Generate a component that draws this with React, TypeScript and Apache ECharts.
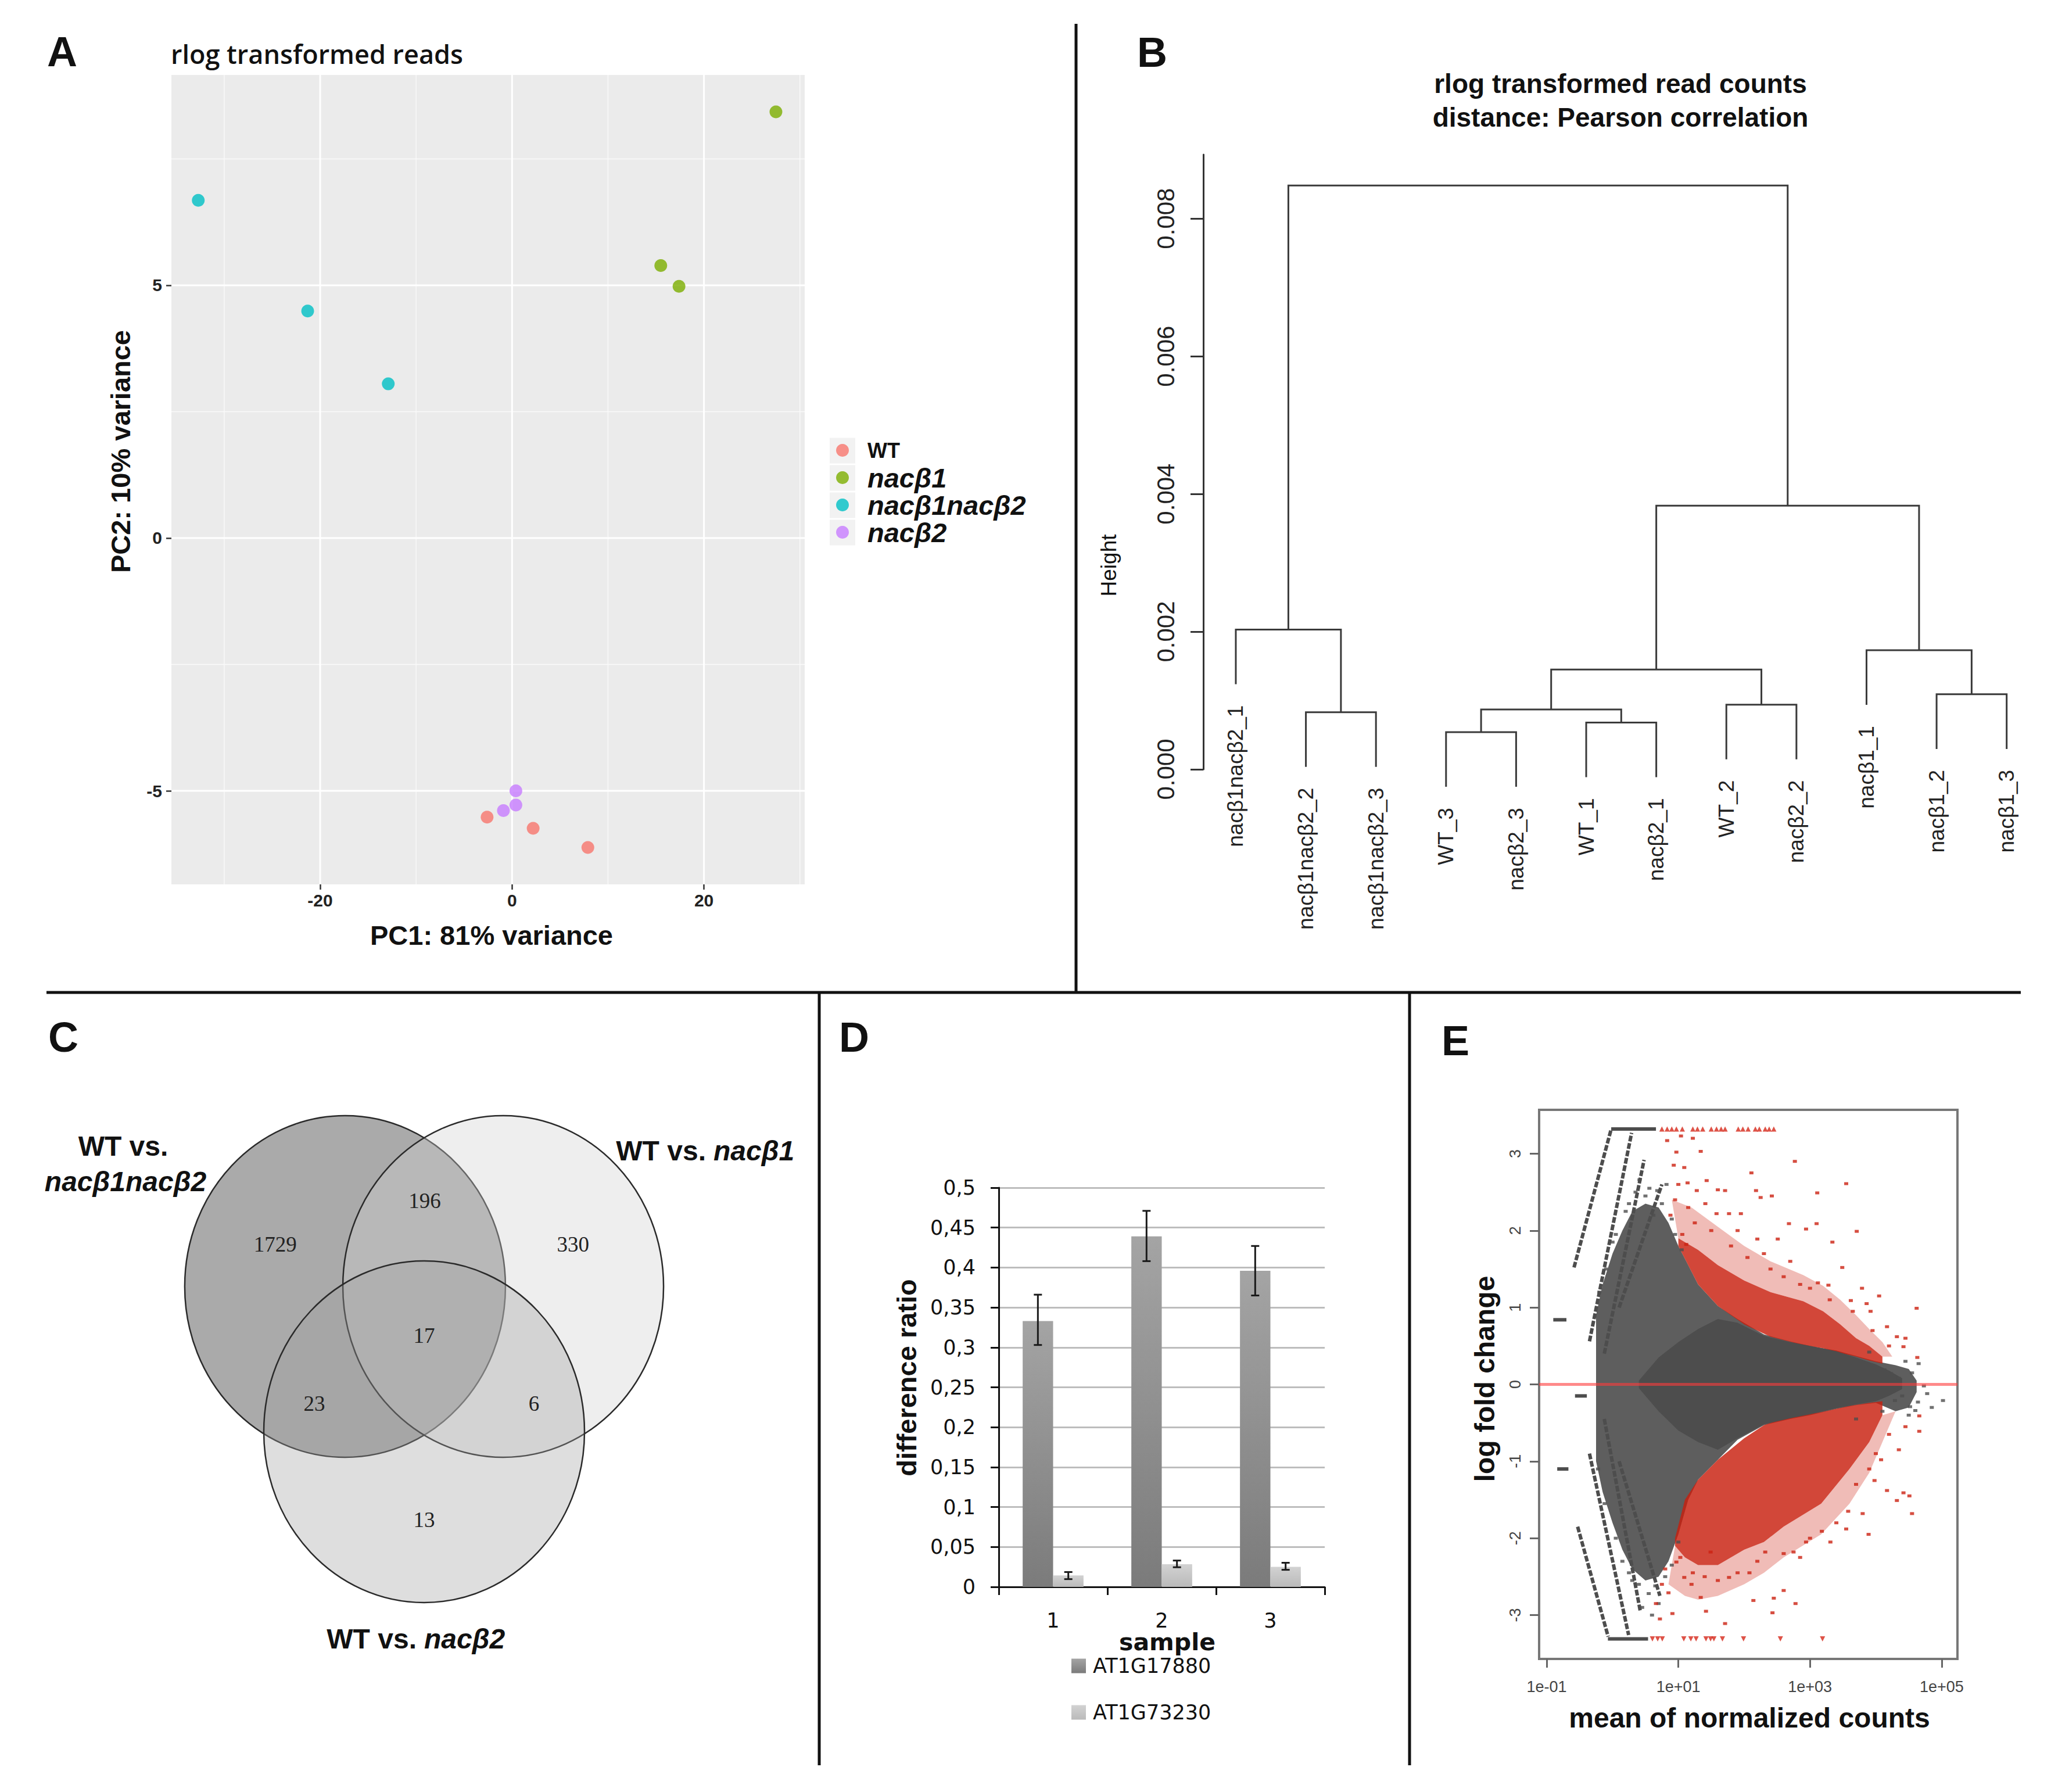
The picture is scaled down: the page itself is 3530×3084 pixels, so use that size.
import React, { useEffect, useRef } from 'react';
import * as echarts from 'echarts';

const W = 3530;
const H = 3084;
const LS = 'Liberation Sans';

// ---------------- Panel A : PCA ----------------
const pcaGroups = ['WT', 'nacβ1', 'nacβ1nacβ2', 'nacβ2'];
const pcaWT = [[-2.6, -5.52], [2.2, -5.74], [7.9, -6.12]];
const pcaNacB1 = [[27.5, 8.43], [15.5, 5.39], [17.4, 4.98]];
const pcaDouble = [[-32.7, 6.68], [-21.3, 4.49], [-12.9, 3.05]];
const pcaNacB2 = [[0.4, -5.0], [0.4, -5.28], [-0.9, -5.39]];
const pcaPoints = [pcaWT, pcaNacB1, pcaDouble, pcaNacB2];
const pcaXTicks = [-20, 0, 20];
const pcaYTicks = [-5, 0, 5];
const pcaXMinor = [-30, -10, 10, 30];
const pcaYMinor = [-2.5, 2.5, 7.5];

// ---------------- Panel B : dendrogram ----------------
const leafLabels = ['nacβ1nacβ2_1', 'nacβ1nacβ2_2', 'nacβ1nacβ2_3', 'WT_3', 'nacβ2_3', 'WT_1', 'nacβ2_1', 'WT_2', 'nacβ2_2', 'nacβ1_1', 'nacβ1_2', 'nacβ1_3'];
// R-style merge matrix: negative = leaf (1-based, plot order), positive = earlier merge (1-based)
const mergeLeft = [-2, -4, -6, 2, -8, -11, 4, -10, -1, 7, 9];
const mergeRight = [-3, -5, -7, 3, -9, -12, 5, 6, 1, 8, 10];
const mergeHeight = [0.00083, 0.00054, 0.00068, 0.00087, 0.00094, 0.00109, 0.00145, 0.00173, 0.00203, 0.00383, 0.00848];
const dendroTicks = [0, 0.002, 0.004, 0.006, 0.008];

// ---------------- Panel C : Venn ----------------
const vennCircles = [[-0.493, 0, 1], [0.493, 0, 1], [0, -0.85, 1]];
const vennCounts = [1729, 196, 330, 17, 23, 6, 13];
const vennCountPos = [[-0.928, 0.248], [0.004, 0.503], [0.928, 0.248], [0, -0.286], [-0.685, -0.684], [0.685, -0.684], [0, -1.364]];

// ---------------- Panel D : bars ----------------
const samples = ['1', '2', '3'];
const geneNames = ['AT1G17880', 'AT1G73230'];
const gene1Ratio = [0.333, 0.439, 0.396];
const gene1Err = [[0.303, 0.366], [0.408, 0.471], [0.365, 0.427]];
const gene2Ratio = [0.0144, 0.0283, 0.0251];
const gene2Err = [[0.0097, 0.0186], [0.0246, 0.033], [0.0214, 0.0302]];

// ---------------- Panel E : MA plot (x = log10 mean count, y = log fold change) ----------------
const maTickExp = [-1, 1, 3, 5];
const maTickLabels = ['1e-01', '1e+01', '1e+03', '1e+05'];
const maYTicks = [-3, -2, -1, 0, 1, 2, 3];
const greyCloudTop = [[-0.25, 0.9], [-0.15, 1.3], [0.0, 1.7], [0.15, 2.0], [0.3, 2.25], [0.5, 2.35], [0.7, 2.3], [0.85, 2.1], [1.0, 1.8], [1.15, 1.55], [1.3, 1.3], [1.6, 1.02], [1.9, 0.85], [2.3, 0.65], [2.7, 0.56], [3.0, 0.5], [3.4, 0.44], [3.7, 0.37], [4.0, 0.3], [4.3, 0.25], [4.5, 0.2], [4.62, 0.05]];
const greyCloudBottom = [[-0.25, -1.0], [-0.15, -1.4], [0.0, -1.8], [0.15, -2.15], [0.3, -2.4], [0.5, -2.55], [0.7, -2.5], [0.85, -2.3], [1.0, -1.95], [1.15, -1.5], [1.3, -1.24], [1.6, -0.98], [1.9, -0.72], [2.3, -0.53], [2.7, -0.45], [3.0, -0.4], [3.4, -0.32], [3.7, -0.27], [4.0, -0.24], [4.3, -0.35], [4.5, -0.3], [4.62, -0.1]];
const greyCoreTop = [[0.4, 0.05], [0.7, 0.35], [1.0, 0.55], [1.3, 0.72], [1.6, 0.85], [1.9, 0.8], [2.3, 0.63], [2.7, 0.55], [3.0, 0.5], [3.4, 0.43], [3.7, 0.35], [4.0, 0.26], [4.2, 0.18], [4.4, 0.08]];
const greyCoreBottom = [[0.4, -0.05], [0.7, -0.35], [1.0, -0.6], [1.3, -0.75], [1.6, -0.85], [1.9, -0.7], [2.3, -0.52], [2.7, -0.44], [3.0, -0.39], [3.4, -0.31], [3.7, -0.26], [4.0, -0.22], [4.2, -0.15], [4.4, -0.06]];
const redUpTop = [[1.0, 1.9], [1.3, 1.75], [1.6, 1.55], [2.0, 1.35], [2.4, 1.2], [2.9, 1.08], [3.2, 0.95], [3.46, 0.78], [3.7, 0.6], [3.9, 0.5], [4.1, 0.36]];
const redUpBottom = [[1.0, 1.8], [1.3, 1.3], [1.6, 1.02], [2.0, 0.78], [2.4, 0.62], [2.9, 0.51], [3.2, 0.47], [3.46, 0.41], [3.7, 0.36], [3.9, 0.31], [4.1, 0.27]];
const redUpHalo = [[0.9, 2.4], [1.2, 2.3], [1.6, 2.05], [2.0, 1.8], [2.4, 1.6], [2.9, 1.42], [3.2, 1.28], [3.46, 1.1], [3.7, 0.9], [3.9, 0.72], [4.1, 0.55], [4.25, 0.36]];
const redLowTop = [[0.95, -2.0], [1.1, -1.5], [1.3, -1.24], [1.6, -0.98], [2.0, -0.7], [2.3, -0.53], [2.6, -0.44], [3.17, -0.36], [3.6, -0.28], [3.9, -0.24], [4.1, -0.22]];
const redLowBottom = [[0.95, -2.1], [1.1, -2.25], [1.3, -2.35], [1.6, -2.35], [2.0, -2.15], [2.3, -2.05], [2.6, -1.85], [3.17, -1.55], [3.6, -1.1], [3.9, -0.75], [4.1, -0.4]];
const redLowHalo = [[0.85, -2.6], [1.1, -2.75], [1.3, -2.8], [1.6, -2.75], [2.0, -2.6], [2.3, -2.45], [2.6, -2.25], [3.17, -1.95], [3.6, -1.55], [3.9, -1.15], [4.1, -0.75], [4.3, -0.35]];
const redOutliers = [[0.83, 3.17], [0.97, 3.02], [1.04, 3.23], [0.93, 2.85], [1.09, 2.82], [1.22, 3.2], [1.34, 3.03], [1.14, 2.62], [1.28, 2.52], [1.43, 2.65], [1.6, 2.53], [1.71, 2.52], [1.58, 2.22], [1.41, 2.35], [1.77, 2.22], [1.95, 2.22], [2.11, 2.75], [2.18, 2.52], [2.25, 2.43], [2.42, 2.45], [2.77, 2.9], [3.11, 2.49], [3.55, 2.61], [2.68, 2.09], [2.94, 2.02], [3.1, 2.09], [3.71, 1.99], [3.34, 1.85], [2.51, 1.89], [2.2, 1.89], [1.06, 1.95], [1.12, 1.82], [3.79, 1.25], [3.86, 1.05], [4.62, 0.99], [4.05, 1.15], [4.42, 0.49], [4.63, 0.35], [3.49, 1.52], [3.12, 1.32], [3.28, 1.29], [3.62, 1.09], [3.92, 0.95], [4.17, 0.75], [4.32, 0.62], [1.5, 2.0], [1.8, 1.8], [2.05, 1.65], [2.4, 1.5], [2.6, 1.4], [2.85, 1.3], [3.0, 1.25], [3.3, 1.1], [3.65, 0.95], [3.95, 0.7], [4.2, 0.5], [1.25, 2.1], [0.95, 2.4], [1.0, 2.6], [0.88, 2.2], [1.15, 2.3], [1.9, 2.0], [2.3, 1.7], [2.7, 1.6], [4.45, 0.6],
  [0.97, -2.31], [0.85, -2.71], [0.72, -3.05], [0.66, -2.85], [0.91, -2.98], [1.34, -2.77], [1.42, -2.95], [1.71, -3.11], [2.14, -2.81], [2.45, -2.78], [2.43, -2.97], [2.78, -2.85], [2.6, -2.68], [1.22, -2.45], [1.49, -2.18], [2.08, -2.45], [2.32, -2.18], [2.75, -2.18], [2.94, -2.05], [3.31, -2.05], [3.55, -1.88], [3.89, -1.95], [3.8, -1.68], [4.17, -1.38], [4.32, -1.51], [4.51, -1.45], [4.55, -1.68], [4.42, -1.41], [4.66, -0.61], [4.66, -0.41], [4.35, -0.85], [4.08, -0.98], [3.98, -1.25], [3.58, -1.65], [3.18, -1.91], [2.85, -2.25], [1.77, -2.51], [1.09, -2.51], [1.03, -2.25], [1.2, -2.6], [1.6, -2.55], [1.9, -2.45], [2.2, -2.3], [2.6, -2.2], [3.0, -2.0], [3.4, -1.8], [3.7, -1.3], [4.0, -0.9], [4.2, -0.65], [4.45, -0.55], [0.8, -2.4], [0.75, -2.6], [1.4, -2.5], [3.9, -1.1]];
const greyOutliers = [[0.41, 2.66], [0.56, 2.55], [0.68, 2.52], [0.82, 2.6], [0.75, 2.35], [0.62, 2.2], [0.9, 2.15], [0.95, 1.95], [1.05, 1.75], [0.5, 2.45], [0.35, 2.5], [0.2, 2.25], [0.0, 1.85], [0.4, -2.6], [0.55, -2.72], [0.65, -2.62], [0.8, -2.5], [0.9, -2.35], [0.3, -2.55], [0.15, -2.3], [0.7, -2.85], [0.6, -3.0], [0.45, -2.9], [1.0, -2.05], [4.65, 0.27], [4.73, -0.02], [4.78, -0.12], [5.02, -0.21], [4.6, -0.34], [4.52, -0.29], [4.4, -0.15], [4.29, -0.21], [4.23, 0.14], [4.13, 0.19], [4.35, 0.08], [4.64, -0.23], [4.45, 0.3], [4.5, -0.4], [4.85, -0.3], [4.55, 0.15], [3.7, -0.45], [3.9, 0.42], [4.1, -0.35], [-0.2, 1.2], [-0.22, -1.1], [-0.1, 1.5], [-0.12, -1.55], [0.05, 1.95], [0.05, -2.0], [0.25, 2.35], [0.25, -2.45]];
const greyStripes = [[-0.585, 1.52, -0.02, 3.32], [-0.35, 0.56, 0.29, 3.27], [-0.125, 0.4, 0.48, 2.92], [0.1, 1.0, 0.75, 2.6], [-0.53, -1.85, -0.066, -3.28], [-0.35, -0.9, 0.245, -3.26], [-0.125, -0.45, 0.42, -2.94], [0.1, -1.0, 0.72, -2.75]];
const greySegments = [[-0.9, 0.84, -0.7, 0.84], [-0.57, -0.15, -0.39, -0.15], [-0.84, -1.1, -0.67, -1.1], [-0.02, 3.32, 0.66, 3.32], [-0.07, -3.31, 0.54, -3.31]];
const redTopClipped = [0.75, 0.83, 0.9, 0.97, 1.06, 1.22, 1.29, 1.37, 1.5, 1.58, 1.65, 1.71, 1.91, 1.98, 2.06, 2.17, 2.23, 2.32, 2.38, 2.45];
const redBottomClipped = [0.606, 0.686, 0.756, 1.083, 1.19, 1.27, 1.42, 1.49, 1.54, 1.67, 1.99, 2.55, 3.19];
const maClipTop = 3.32;
const maClipBottom = -3.31;

const f = (size: number, weight: string = 'normal', family: string = LS, style: string = 'normal') =>
  `${style} ${weight} ${size}px "${family}"`;

function txt(text: string, x: number, y: number, font: string, opts: any = {}) {
  const align = opts.align || 'center';
  return {
    type: 'text', x, y, rotation: opts.rotation || 0, z: 20, silent: true,
    style: { text, font, fill: opts.color || '#111', textAlign: align, align, textVerticalAlign: 'middle', verticalAlign: 'middle' },
  };
}

function gridLines(idx: number, values: number[], vertical: boolean, width: number, color: string, z = 1) {
  return {
    type: 'custom', xAxisIndex: idx, yAxisIndex: idx, z, silent: true, clip: false,
    data: values.map((v) => (vertical ? [v, 0] : [0, v])),
    encode: { x: 0, y: 1 },
    renderItem: (params: any, api: any) => {
      const cs = params.coordSys;
      const p = api.coord([api.value(0), api.value(1)]);
      const shape = vertical
        ? { x1: p[0], y1: cs.y, x2: p[0], y2: cs.y + cs.height }
        : { x1: cs.x, y1: p[1], x2: cs.x + cs.width, y2: p[1] };
      return { type: 'line', shape, style: { stroke: color, lineWidth: width } };
    },
  };
}

function band(top: number[][], bottom: number[][], fill: string, z: number) {
  const ring = top.concat(bottom.slice().reverse());
  return {
    type: 'custom', xAxisIndex: 4, yAxisIndex: 4, z, silent: true, clip: true,
    data: ring, encode: { x: 0, y: 1 },
    renderItem: (params: any, api: any) => {
      if (params.dataIndex !== 0) return null;
      return { type: 'polygon', shape: { points: ring.map((p) => api.coord(p)) }, style: { fill } };
    },
  };
}

function segs(data: number[][], dash: number[] | null, width: number, z: number) {
  return {
    type: 'custom', xAxisIndex: 4, yAxisIndex: 4, z, silent: true, clip: true,
    data, encode: { x: [0, 2], y: [1, 3] },
    renderItem: (params: any, api: any) => {
      const a = api.coord([api.value(0), api.value(1)]);
      const b = api.coord([api.value(2), api.value(3)]);
      const style: any = { stroke: '#4d4d4d', lineWidth: width };
      if (dash) style.lineDash = dash;
      return { type: 'line', shape: { x1: a[0], y1: a[1], x2: b[0], y2: b[1] }, style };
    },
  };
}

function buildOption() {
  // dendrogram geometry from merge matrix
  const hang = 0.1 * (Math.max(...mergeHeight) - Math.min(...mergeHeight));
  const mergeX: number[] = [];
  const leafTop: number[] = leafLabels.map(() => 0);
  const links = mergeHeight.map((h, k) => {
    const l = mergeLeft[k];
    const r = mergeRight[k];
    const cx = (c: number) => (c < 0 ? -c : mergeX[c - 1]);
    const cy = (c: number) => (c < 0 ? h - hang : mergeHeight[c - 1]);
    if (l < 0) leafTop[-l - 1] = h - hang;
    if (r < 0) leafTop[-r - 1] = h - hang;
    mergeX[k] = (cx(l) + cx(r)) / 2;
    return [cx(l), cy(l), cx(r), cy(r), h];
  });

  const darkGrad = new echarts.graphic.LinearGradient(0, 0, 0, 1, [
    { offset: 0, color: '#a4a4a4' }, { offset: 1, color: '#7b7b7b' },
  ]);
  const lightGrad = new echarts.graphic.LinearGradient(0, 0, 0, 1, [
    { offset: 0, color: '#d2d2d2' }, { offset: 1, color: '#bababa' },
  ]);

  const vennFills = ['rgba(170,170,170,1)', 'rgba(208,208,208,0.365)', 'rgba(161,161,161,0.35)'];

  const errData: number[][] = [];
  gene1Err.forEach((e, i) => errData.push([i, e[0], e[1], 0]));
  gene2Err.forEach((e, i) => errData.push([i, e[0], e[1], 1]));

  const graphic: any[] = [
    // separators
    { type: 'line', shape: { x1: 1852, y1: 41, x2: 1852, y2: 1708 }, style: { stroke: '#111', lineWidth: 5 } },
    { type: 'line', shape: { x1: 80, y1: 1708, x2: 3478, y2: 1708 }, style: { stroke: '#111', lineWidth: 5 } },
    { type: 'line', shape: { x1: 1410, y1: 1708, x2: 1410, y2: 3038 }, style: { stroke: '#111', lineWidth: 5 } },
    { type: 'line', shape: { x1: 2426, y1: 1708, x2: 2426, y2: 3038 }, style: { stroke: '#111', lineWidth: 5 } },
    // panel letters
    txt('A', 107, 89, f(72, 'bold')),
    txt('B', 1983, 90, f(72, 'bold')),
    txt('C', 109, 1785, f(72, 'bold')),
    txt('D', 1470, 1785, f(72, 'bold')),
    txt('E', 2505, 1791, f(72, 'bold')),
    // A
    txt('rlog transformed reads', 294, 92, f(45, '600', 'Open Sans'), { align: 'left' }),
    txt('PC1: 81% variance', 846, 1609, f(47, 'bold')),
    txt('PC2: 10% variance', 207, 777, f(47, 'bold'), { rotation: Math.PI / 2 }),
    // B
    txt('rlog transformed read counts', 2789, 144, f(46, 'bold')),
    txt('distance: Pearson correlation', 2789, 202, f(46, 'bold')),
    txt('Height', 1908, 973, f(37), { rotation: Math.PI / 2 }),
    // C set labels
    txt('WT vs.', 212, 1972, f(48, 'bold')),
    txt('nacβ1nacβ2', 216, 2033, f(48, 'bold', LS, 'italic')),
    txt('WT vs.', 1215, 1980, f(48, 'bold'), { align: 'right' }),
    txt('nacβ1', 1228, 1980, f(48, 'bold', LS, 'italic'), { align: 'left' }),
    txt('WT vs.', 717, 2820, f(48, 'bold'), { align: 'right' }),
    txt('nacβ2', 730, 2820, f(48, 'bold', LS, 'italic'), { align: 'left' }),
    // D
    txt('difference ratio', 1560, 2371, f(47, 'bold'), { rotation: Math.PI / 2 }),
    txt('sample', 2009, 2826, f(41, 'bold', 'DejaVu Sans')),
    // E
    txt('log fold change', 2555, 2373, f(48, 'bold'), { rotation: Math.PI / 2 }),
    txt('mean of normalized counts', 3011, 2956, f(48, 'bold')),
  ];
  // legend key backgrounds (ggplot style)
  pcaGroups.forEach((_, k) => {
    graphic.push({ type: 'rect', z: 0, silent: true, shape: { x: 1428, y: 753.5 + 47 * k, width: 44, height: 44 }, style: { fill: '#F2F2F2' } });
  });

  const series: any[] = [
    // ----- A -----
    gridLines(0, pcaXMinor, true, 1.4, '#fafafa'),
    gridLines(0, pcaYMinor, false, 1.4, '#fafafa'),
    gridLines(0, pcaXTicks, true, 3, '#ffffff'),
    gridLines(0, pcaYTicks, false, 3, '#ffffff'),
    ...pcaGroups.map((g, i) => ({
      name: g, type: 'scatter', xAxisIndex: 0, yAxisIndex: 0, z: 3,
      symbol: 'circle', symbolSize: 22, data: pcaPoints[i],
      itemStyle: { color: ['#F8766D', '#7CAE00', '#00BFC4', '#C77CFF'][i] },
    })),
    // ----- B -----
    {
      name: 'dendrogram', type: 'custom', xAxisIndex: 1, yAxisIndex: 1, clip: false, silent: true,
      data: links, encode: { x: [0, 2], y: [1, 3, 4] },
      renderItem: (params: any, api: any) => {
        const xl = api.value(0), yl = api.value(1), xr = api.value(2), yr = api.value(3), h = api.value(4);
        const pts = [api.coord([xl, yl]), api.coord([xl, h]), api.coord([xr, h]), api.coord([xr, yr])];
        return { type: 'polyline', shape: { points: pts }, style: { stroke: '#3a3a3a', lineWidth: 3, fill: null } };
      },
    },
    {
      name: 'leaves', type: 'custom', xAxisIndex: 1, yAxisIndex: 1, clip: false, silent: true,
      data: leafLabels.map((lab, i) => [i + 1, leafTop[i]]), encode: { x: 0, y: 1 },
      renderItem: (params: any, api: any) => {
        const p = api.coord([api.value(0), api.value(1)]);
        return {
          type: 'text', x: p[0], y: p[1] + 36, rotation: Math.PI / 2,
          style: { text: leafLabels[params.dataIndex], font: f(37), fill: '#222', textAlign: 'right', align: 'right', textVerticalAlign: 'middle', verticalAlign: 'middle' },
        };
      },
    },
    // ----- C -----
    {
      name: 'venn', type: 'custom', xAxisIndex: 2, yAxisIndex: 2, clip: false, silent: true,
      data: vennCircles, encode: { x: 0, y: 1 },
      renderItem: (params: any, api: any) => {
        const c = api.coord([api.value(0), api.value(1)]);
        const s = api.size([api.value(2), api.value(2)]);
        return {
          type: 'ellipse', shape: { cx: c[0], cy: c[1], rx: s[0], ry: s[1] },
          style: { fill: vennFills[params.dataIndex], stroke: '#2a2a2a', lineWidth: 2.5 },
        };
      },
    },
    {
      name: 'vennCounts', type: 'custom', xAxisIndex: 2, yAxisIndex: 2, clip: false, silent: true, z: 5,
      data: vennCountPos.map((p, i) => [p[0], p[1], vennCounts[i]]), encode: { x: 0, y: 1 },
      renderItem: (params: any, api: any) => {
        const c = api.coord([api.value(0), api.value(1)]);
        return {
          type: 'text', x: c[0], y: c[1],
          style: { text: String(api.value(2)), font: f(37, 'normal', 'Liberation Serif'), fill: '#222', textAlign: 'center', align: 'center', textVerticalAlign: 'middle', verticalAlign: 'middle' },
        };
      },
    },
    // ----- D -----
    {
      name: geneNames[0], type: 'bar', xAxisIndex: 3, yAxisIndex: 3, data: gene1Ratio,
      barWidth: '28%', barGap: '0%', itemStyle: { color: darkGrad }, z: 3,
    },
    {
      name: geneNames[1], type: 'bar', xAxisIndex: 3, yAxisIndex: 3, data: gene2Ratio,
      barWidth: '28%', barGap: '0%', itemStyle: { color: lightGrad }, z: 3,
    },
    {
      name: 'errors', type: 'custom', xAxisIndex: 3, yAxisIndex: 3, z: 5, silent: true, clip: false,
      data: errData, encode: { x: 0, y: [1, 2] },
      renderItem: (params: any, api: any) => {
        const cat = api.value(0);
        const lo = api.coord([cat, api.value(1)]);
        const hi = api.coord([cat, api.value(2)]);
        const bw = api.size([1, 0])[0];
        const x = lo[0] + (api.value(3) === 0 ? -1 : 1) * bw * 0.14;
        const cap = 7;
        const st = { stroke: '#1a1a1a', lineWidth: 3 };
        return {
          type: 'group', children: [
            { type: 'line', shape: { x1: x, y1: lo[1], x2: x, y2: hi[1] }, style: st },
            { type: 'line', shape: { x1: x - cap, y1: lo[1], x2: x + cap, y2: lo[1] }, style: st },
            { type: 'line', shape: { x1: x - cap, y1: hi[1], x2: x + cap, y2: hi[1] }, style: st },
          ],
        };
      },
    },
    // ----- E -----
    band(greyCloudTop, greyCloudBottom, 'rgba(77,77,77,0.9)', 1),
    band(redUpHalo, redUpTop, 'rgba(204,34,17,0.3)', 2),
    band(redLowBottom, redLowHalo, 'rgba(204,34,17,0.3)', 2),
    band(redUpTop, redUpBottom, 'rgba(200,30,14,0.82)', 2),
    band(redLowTop, redLowBottom, 'rgba(200,30,14,0.82)', 2),
    band(greyCoreTop, greyCoreBottom, '#4d4d4d', 3),
    segs(greyStripes, [10, 3], 6, 3),
    segs(greySegments, null, 6, 3),
    {
      name: 'notSignificant', type: 'scatter', xAxisIndex: 4, yAxisIndex: 4, z: 3, silent: true,
      symbol: 'rect', symbolSize: [7, 5], data: greyOutliers, itemStyle: { color: '#4d4d4d' },
    },
    {
      name: 'significant', type: 'scatter', xAxisIndex: 4, yAxisIndex: 4, z: 4, silent: true,
      symbol: 'rect', symbolSize: [7, 5], data: redOutliers, itemStyle: { color: '#cc2211' },
    },
    {
      name: 'clippedUp', type: 'scatter', xAxisIndex: 4, yAxisIndex: 4, z: 4, silent: true,
      symbol: 'triangle', symbolSize: 9, data: redTopClipped.map((x) => [x, maClipTop]), itemStyle: { color: '#d6281a' },
    },
    {
      name: 'clippedDown', type: 'scatter', xAxisIndex: 4, yAxisIndex: 4, z: 4, silent: true,
      symbol: 'triangle', symbolRotate: 180, symbolSize: 9, data: redBottomClipped.map((x) => [x, maClipBottom]), itemStyle: { color: '#d6281a' },
    },
    gridLines(4, [0], false, 5, 'rgba(255,60,60,0.6)', 10),
  ];

  const tickFontA = { fontSize: 30, fontWeight: 'bold', color: '#222', fontFamily: LS };

  return {
    animation: false,
    backgroundColor: '#ffffff',
    graphic: { elements: graphic },
    legend: [
      {
        orient: 'vertical', left: 1439, top: 751.5, itemWidth: 22, itemHeight: 22, itemGap: 0, padding: 0,
        icon: 'circle', selectedMode: false,
        textStyle: { fontFamily: LS, color: '#111', lineHeight: 47, padding: [0, 0, 0, 27] },
        data: pcaGroups.map((g, i) => ({
          name: g,
          textStyle: i === 0
            ? { fontSize: 36, fontWeight: 'bold', fontStyle: 'normal', fontFamily: LS, lineHeight: 47, padding: [0, 0, 0, 27], color: '#111' }
            : { fontSize: 47, fontWeight: 'bold', fontStyle: 'italic', fontFamily: LS, lineHeight: 47, padding: [0, 0, 0, 27], color: '#111' },
        })),
      },
      {
        orient: 'vertical', left: 1844, top: 2827, itemWidth: 25, itemHeight: 25, itemGap: 0, padding: 0,
        icon: 'rect', selectedMode: false,
        textStyle: { fontFamily: 'DejaVu Sans', fontSize: 35, color: '#111', lineHeight: 80, padding: [0, 0, 0, 7] },
        data: geneNames,
      },
    ],
    grid: [
      { left: 295, top: 129, width: 1090, height: 1393, show: true, backgroundColor: '#EBEBEB', borderWidth: 0 },
      { left: 2071, top: 266, width: 1443, height: 1058 },
      { left: 178, top: 1773, width: 1104, height: 1029 },
      { left: 1719, top: 2044, width: 561, height: 687 },
      { left: 2649, top: 1910, width: 720, height: 945, show: true, borderColor: '#777777', borderWidth: 4, backgroundColor: '#ffffff' },
    ],
    xAxis: [
      {
        gridIndex: 0, type: 'value', min: -35.5, max: 30.5,
        axisLine: { show: false, onZero: false }, splitLine: { show: false },
        axisTick: { show: true, customValues: pcaXTicks, length: 9, lineStyle: { color: '#333', width: 2.5 } },
        axisLabel: { customValues: pcaXTicks, margin: 12, ...tickFontA },
      },
      { gridIndex: 1, type: 'value', min: 0.536, max: 12.5, show: false, axisLine: { onZero: false } },
      { gridIndex: 2, type: 'value', min: -2, max: 2, show: false, axisLine: { onZero: false } },
      {
        gridIndex: 3, type: 'category', data: samples,
        axisLine: { show: true, onZero: false, lineStyle: { color: '#111', width: 3 } },
        axisTick: { show: true, alignWithLabel: false, length: 14, lineStyle: { color: '#111', width: 3 } },
        axisLabel: { margin: 40, fontSize: 35, fontFamily: 'DejaVu Sans', color: '#111' },
      },
      {
        gridIndex: 4, type: 'value', min: -1.115, max: 5.24,
        axisLine: { show: true, onZero: false, lineStyle: { color: '#777', width: 4 } }, splitLine: { show: false },
        axisTick: { show: true, customValues: maTickExp, length: 15, lineStyle: { color: '#666', width: 3 } },
        axisLabel: {
          customValues: maTickExp, margin: 34, fontSize: 27, fontFamily: LS, color: '#444',
          formatter: (v: number) => maTickLabels[maTickExp.indexOf(Math.round(v))] || '',
        },
      },
    ],
    yAxis: [
      {
        gridIndex: 0, type: 'value', min: -6.85, max: 9.16,
        axisLine: { show: false, onZero: false }, splitLine: { show: false },
        axisTick: { show: true, customValues: pcaYTicks, length: 9, lineStyle: { color: '#333', width: 2.5 } },
        axisLabel: { customValues: pcaYTicks, margin: 16, ...tickFontA },
      },
      {
        gridIndex: 1, type: 'value', min: 0, max: 0.00893,
        axisLine: { show: true, onZero: false, lineStyle: { color: '#333', width: 3 } }, splitLine: { show: false },
        axisTick: { show: true, customValues: dendroTicks, length: 22, lineStyle: { color: '#333', width: 3 } },
        axisLabel: {
          customValues: dendroTicks, rotate: 90, margin: 44, fontSize: 42, fontFamily: LS, color: '#222',
          formatter: (v: number) => v.toFixed(3),
        },
      },
      { gridIndex: 2, type: 'value', min: -2, max: 1.5, show: false, axisLine: { onZero: false } },
      {
        gridIndex: 3, type: 'value', min: 0, max: 0.5, interval: 0.05,
        axisLine: { show: true, onZero: false, lineStyle: { color: '#111', width: 3 } },
        axisTick: { show: true, length: 14, lineStyle: { color: '#111', width: 3 } },
        splitLine: { show: true, lineStyle: { color: '#bdbdbd', width: 3 } },
        axisLabel: {
          margin: 40, fontSize: 35, fontFamily: 'DejaVu Sans', color: '#111',
          formatter: (v: number) => String(Math.round(v * 100) / 100).replace('.', ','),
        },
      },
      {
        gridIndex: 4, type: 'value', min: -3.57, max: 3.57,
        axisLine: { show: true, onZero: false, lineStyle: { color: '#777', width: 4 } }, splitLine: { show: false },
        axisTick: { show: true, customValues: maYTicks, length: 16, lineStyle: { color: '#666', width: 3 } },
        axisLabel: { customValues: maYTicks, rotate: 90, margin: 28, fontSize: 27, fontFamily: LS, color: '#444' },
      },
    ],
    series,
  };
}

export default function App() {
  const ref = useRef<HTMLDivElement>(null);
  useEffect(() => {
    document.body.style.margin = '0';
    const chart = echarts.init(ref.current as HTMLDivElement, null, { renderer: 'svg', width: W, height: H });
    chart.setOption(buildOption() as any);
    return () => chart.dispose();
  }, []);
  return <div ref={ref} style={{ width: W, height: H }} />;
}
